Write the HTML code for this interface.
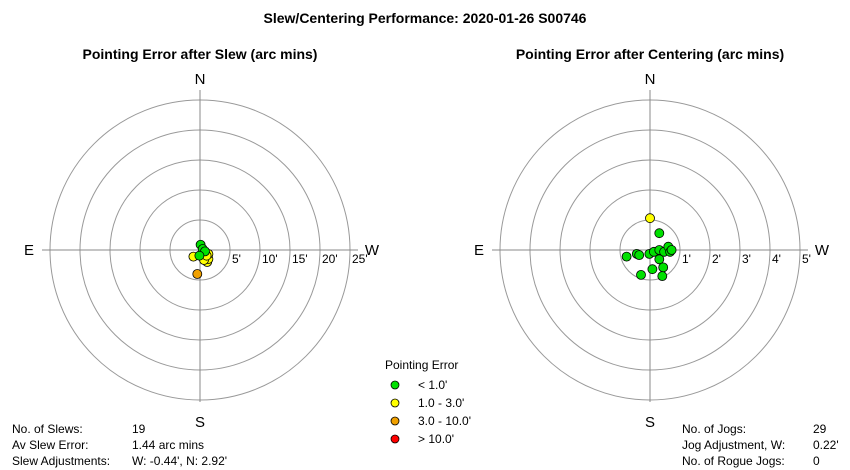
<!DOCTYPE html>
<html><head><meta charset="utf-8"><style>
body{margin:0;background:#fff;}
svg{display:block;font-family:"Liberation Sans",Arial,sans-serif;}
</style></head><body>
<svg id="chart" width="850" height="470" viewBox="0 0 850 470">
<rect width="850" height="470" fill="#fff"/>
<text x="425" y="23" text-anchor="middle" font-size="14" font-weight="bold">Slew/Centering Performance: 2020-01-26 S00746</text>
<text x="200" y="59" text-anchor="middle" font-size="14" font-weight="bold">Pointing Error after Slew (arc mins)</text>
<text x="650" y="59" text-anchor="middle" font-size="14" font-weight="bold">Pointing Error after Centering (arc mins)</text>
<g id="left"></g>
<g id="right"></g>
<g font-size="12">
<text x="385" y="369">Pointing Error</text>
<circle cx="395" cy="385" r="4" fill="#00e000" stroke="#000" stroke-width="0.8"/>
<text x="418" y="389">&lt; 1.0'</text>
<circle cx="395" cy="403" r="4" fill="#ffff00" stroke="#000" stroke-width="0.8"/>
<text x="418" y="407">1.0 - 3.0'</text>
<circle cx="395" cy="421" r="4" fill="#f0a000" stroke="#000" stroke-width="0.8"/>
<text x="418" y="425">3.0 - 10.0'</text>
<circle cx="395" cy="439" r="4" fill="#ff0000" stroke="#000" stroke-width="0.8"/>
<text x="418" y="443">&gt; 10.0'</text>
</g>
<g font-size="12">
<text x="12" y="433">No. of Slews:</text><text x="132" y="433">19</text>
<text x="12" y="449">Av Slew Error:</text><text x="132" y="449">1.44 arc mins</text>
<text x="12" y="465">Slew Adjustments:</text><text x="132" y="465">W: -0.44', N: 2.92'</text>
</g>
<g font-size="12">
<text x="682" y="433">No. of Jogs:</text><text x="813" y="433">29</text>
<text x="682" y="449">Jog Adjustment, W:</text><text x="813" y="449">0.22'</text>
<text x="682" y="465">No. of Rogue Jogs:</text><text x="813" y="465">0</text>
</g>
</svg>
<script>
// Slew errors (arcmin): W positive, N positive
const slewW = [-0.45, 1.2, 1.4, 0.67, 1.4, 1.1, -1.1, 0.1, 0.45, 0.83, -0.1];
const slewN = [-4.0, -2.0, -1.5, -1.67, -0.67, -0.95, -1.1, 0.88, 0.17, -0.23, -0.95];
const slewTicks = ["5'", "10'", "15'", "20'", "25'"];
// Centering errors (arcmin)
const centW = [0, 0.31, -0.78, -0.44, -0.36, -0.02, 0.13, 0.31, 0.47, 0.61, 0.67, 0.72, 0.31, 0.44, 0.08, -0.3, 0.41];
const centN = [1.06, 0.56, -0.22, -0.13, -0.17, -0.13, -0.06, 0, -0.06, 0.11, -0.06, 0, -0.31, -0.58, -0.64, -0.83, -0.87];
const centTicks = ["1'", "2'", "3'", "4'", "5'"];
const NS = "http://www.w3.org/2000/svg";
function mk(parent, tag, attrs, text){
  const e = document.createElementNS(NS, tag);
  for (const k in attrs) e.setAttribute(k, attrs[k]);
  if (text !== undefined) e.textContent = text;
  parent.appendChild(e); return e;
}
function color(r){ return r < 1 ? "#00e000" : r < 3 ? "#ffff00" : r < 10 ? "#f0a000" : "#ff0000"; }
function polar(g, cx, cy, R, maxV, ticks, W, N){
  const scale = v => v / maxV * R;
  for (let i = 1; i <= ticks.length; i++){
    const c = mk(g, "circle", {cx, cy, r: scale(maxV * i / ticks.length), fill: "none", stroke: "#999", "stroke-width": 1});
    
    
  }
  const v = mk(g, "line", {x1: cx, y1: cy - R - 10, x2: cx, y2: cy + R + 2, stroke: "#888"});
  
  
  const h = mk(g, "line", {x1: cx - R - 8, y1: cy, x2: cx + R + 8, y2: cy, stroke: "#888"});
  
  
  const lab = [["N", cx, cy - R - 16], ["S", cx, cy + R + 27], ["E", cx - R - 21, cy + 5], ["W", cx + R + 22, cy + 5]];
  lab.forEach(l => {
    const t = mk(g, "text", {x: l[1], y: l[2], "text-anchor": "middle", "font-size": 15}, l[0]);
    
    
  });
  ticks.forEach((tk, i) => {
    const t = mk(g, "text", {x: cx + scale(maxV * (i + 1) / ticks.length) + 2, y: cy + 13, "font-size": 12}, tk);
    
    
  });
  W.forEach((w, i) => {
    const r = Math.hypot(w, N[i]);
    const p = mk(g, "circle", {cx: cx + scale(w), cy: cy - scale(N[i]), r: 4.5, fill: color(r), stroke: "#000", "stroke-width": 0.8});
    
    
  });
}
polar(document.getElementById("left"), 200, 250, 150, 25, slewTicks, slewW, slewN);
polar(document.getElementById("right"), 650, 250, 150, 5, centTicks, centW, centN);
</script>
</body></html>
